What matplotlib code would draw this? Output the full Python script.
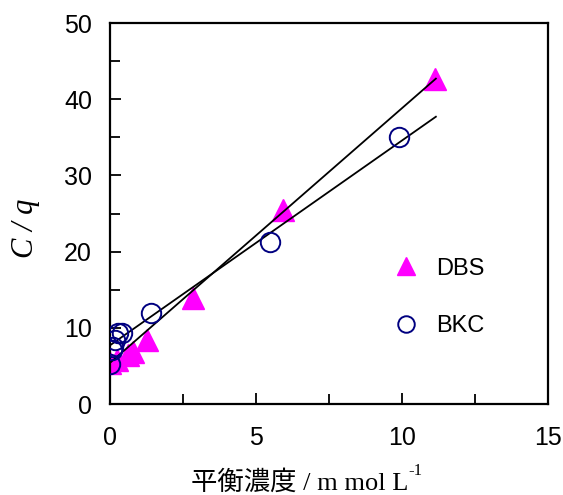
import matplotlib.pyplot as plt
from matplotlib.ticker import MultipleLocator

# DBS (triangles)
dbs_x = [0.0, 0.25, 0.6, 0.79, 1.25, 2.84, 5.92, 11.13]
dbs_y = [5.4, 5.8, 6.4, 6.8, 8.4, 13.9, 25.5, 42.7]
# BKC (circles)
bkc_x = [0.0, 0.07, 0.1, 0.17, 0.28, 0.4, 1.4, 5.48, 9.9]
bkc_y = [5.3, 7.1, 7.5, 8.4, 9.3, 9.3, 12.0, 21.2, 35.1]
# fitted lines (end points)
dbs_fit_x = [0.0, 11.16]
dbs_fit_y = [5.4, 42.7]
bkc_fit_x = [0.0, 11.16]
bkc_fit_y = [7.7, 37.7]

plt.rcParams["font.family"] = ["Liberation Sans", "DejaVu Sans"]

fig = plt.figure(figsize=(5.63, 4.95), dpi=100)
W, H = 563, 495
ax = fig.add_axes([110 / W, 1 - 404 / H, (548 - 110) / W, (404 - 23) / H])

ax.plot(dbs_fit_x, dbs_fit_y, color="black", lw=1.3, zorder=3)
ax.plot(bkc_fit_x, bkc_fit_y, color="black", lw=1.3, zorder=3)
ax.plot(dbs_x, dbs_y, ls="none", marker="^", ms=16, color="#FF00FF",
        mec="#FF00FF", label="DBS", zorder=2)
ax.plot(bkc_x, bkc_y, ls="none", marker="o", ms=14, mfc="none",
        mec="#000080", mew=1.4, label="BKC", zorder=4)

ax.set_xlim(0, 15)
ax.set_ylim(0, 50)
ax.xaxis.set_major_locator(MultipleLocator(5))
ax.xaxis.set_minor_locator(MultipleLocator(2.5))
ax.yaxis.set_major_locator(MultipleLocator(10))
ax.yaxis.set_minor_locator(MultipleLocator(5))
ax.tick_params(which="both", direction="in", width=1.3, labelsize=18)
ax.tick_params(which="major", length=8)
ax.tick_params(which="minor", length=7)
ax.tick_params(axis="x", pad=16)
ax.tick_params(axis="y", pad=13)
for s in ax.spines.values():
    s.set_linewidth(1.6)

leg = ax.legend(loc="upper left", bbox_to_anchor=(0.6, 0.44), frameon=False,
                fontsize=17, markerscale=0.85, handlelength=1.0,
                handletextpad=0.8, labelspacing=1.5)

xl = fig.text(300 / W, 1 - 482 / H, "平衡濃度 / m mol L",
              ha="center", va="center", fontsize=19,
              family=["Liberation Serif", "Noto Sans CJK JP"])
fig.canvas.draw()
ax.annotate("-1", xy=(1.0, 0.95), xycoords=xl, ha="left", va="center",
            fontsize=12, family=["Liberation Serif"])
fig.text(26 / W, 1 - 228 / H, "C / q", rotation=90, ha="center", va="center",
         fontsize=22, style="italic", family=["Liberation Serif"])

fig.savefig("out.png", dpi=100)
